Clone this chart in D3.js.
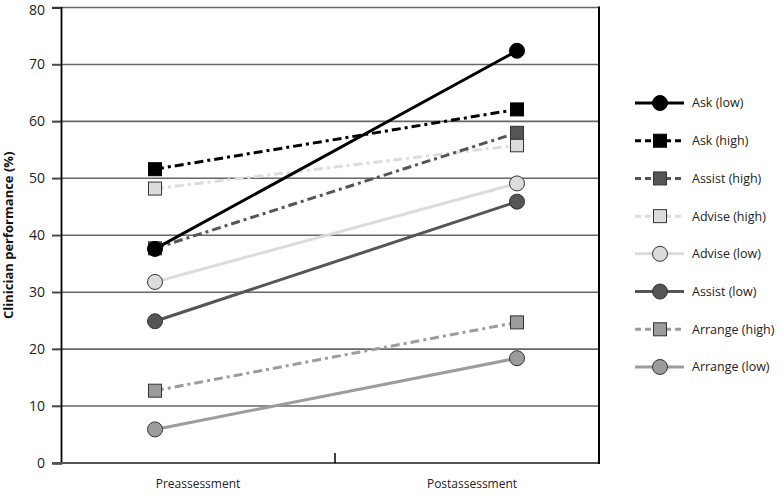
<!DOCTYPE html>
<html><head><meta charset="utf-8">
<script src="https://cdn.jsdelivr.net/npm/d3@7"></script>
<style>body{margin:0;background:#fff;} svg{display:block;} text{font-family:"Open Sans","Noto Sans",sans-serif;}</style>
</head><body>
<svg id="chart" width="782" height="496"></svg>
<script>
const categories = ["Preassessment", "Postassessment"];
const seriesNames = ["Ask (low)", "Ask (high)", "Assist (high)", "Advise (high)", "Advise (low)", "Assist (low)", "Arrange (high)", "Arrange (low)"];
const askLow = [37.6, 72.4];
const askHigh = [51.6, 62.1];
const assistHigh = [37.7, 58.0];
const adviseHigh = [48.2, 55.8];
const adviseLow = [31.8, 49.1];
const assistLow = [24.9, 45.9];
const arrangeHigh = [12.7, 24.7];
const arrangeLow = [5.9, 18.4];
const yTicks = [0, 10, 20, 30, 40, 50, 60, 70, 80];

const seriesValues = [askLow, askHigh, assistHigh, adviseHigh, adviseLow, assistLow, arrangeHigh, arrangeLow];
const styles = [
  {color:"#000000", fill:"#000000", shape:"circle", dash:null},
  {color:"#000000", fill:"#000000", shape:"square", dash:"9,4,3,4"},
  {color:"#555555", fill:"#555555", shape:"square", dash:"9,4,3,4"},
  {color:"#dcdcdc", fill:"#dcdcdc", shape:"square", dash:"9,4,3,4"},
  {color:"#dcdcdc", fill:"#dcdcdc", shape:"circle", dash:null},
  {color:"#555555", fill:"#555555", shape:"circle", dash:null},
  {color:"#9c9c9c", fill:"#9c9c9c", shape:"square", dash:"9,4,3,4"},
  {color:"#9c9c9c", fill:"#9c9c9c", shape:"circle", dash:null}
];
const series = seriesNames.map((n,i)=>({name:n, values:seriesValues[i], style:styles[i]}));

const svg = d3.select("#chart");
const mLeft = 61, mRight = 599, mTop = 7.5, mBottom = 463;
const y = d3.scaleLinear().domain([0,80]).range([mBottom, mTop]);
const xBand = d3.scaleBand().domain(categories).range([mLeft, 609]);
const xPt = d3.scalePoint().domain(categories).range([155, 517]);

// gridlines
svg.append("g").selectAll("line").data(yTicks.filter(t=>t>0)).join("line")
  .attr("x1", 52).attr("x2", mRight).attr("y1", d=>y(d)).attr("y2", d=>y(d))
  .attr("stroke", "#666").attr("stroke-width", 1.6);

// y axis
const yAxis = svg.append("g").attr("transform", `translate(${mLeft},0)`)
  .call(d3.axisLeft(y).tickValues(yTicks).tickSize(9).tickPadding(7));
yAxis.select(".domain").attr("stroke", "#000").attr("stroke-width", 1.8);
yAxis.selectAll(".tick line").attr("stroke", "#444").attr("stroke-width", 1.5);
yAxis.selectAll(".tick text").attr("font-size", 14).attr("fill", "#222")
  .attr("font-family", "'Open Sans', sans-serif")
  .attr("y", d => d === 80 ? 3 : 0);

// x axis
const xAxis = svg.append("g").attr("transform", `translate(0,${mBottom})`)
  .call(d3.axisBottom(xBand).tickSize(0).tickPadding(16));
xAxis.select(".domain").remove();
xAxis.selectAll(".tick text").attr("font-size", 12).attr("fill", "#222")
  .attr("font-family", "'Open Sans', sans-serif");
svg.append("line").attr("x1", 52).attr("x2", mRight).attr("y1", mBottom).attr("y2", mBottom)
  .attr("stroke", "#555").attr("stroke-width", 2);
// middle separator tick
svg.append("line").attr("x1", xBand(categories[1])).attr("x2", xBand(categories[1]))
  .attr("y1", mBottom-10).attr("y2", mBottom).attr("stroke", "#000").attr("stroke-width", 1.5);
// right border
svg.append("line").attr("x1", mRight).attr("x2", mRight).attr("y1", mTop-1).attr("y2", mBottom+1)
  .attr("stroke", "#000").attr("stroke-width", 2);

// y title
svg.append("text").attr("transform", `translate(13,${(mTop+mBottom)/2}) rotate(-90)`)
  .attr("text-anchor", "middle").attr("font-size", 13).attr("font-weight", "bold")
  .attr("fill", "#111").text("Clinician performance (%)");

const line = d3.line().x((d,i)=>xPt(categories[i])).y(d=>y(d));

function drawMarker(g, s, cx, cy) {
  const stroke = s.fill === "#000000" ? "#000" : "#333";
  if (s.shape === "circle") {
    g.append("circle").attr("cx", cx).attr("cy", cy).attr("r", 7.5)
      .attr("fill", s.fill).attr("stroke", stroke).attr("stroke-width", 1);
  } else {
    g.append("rect").attr("x", cx-6.5).attr("y", cy-6.5).attr("width", 13).attr("height", 13)
      .attr("fill", s.fill).attr("stroke", stroke).attr("stroke-width", 1);
  }
}

// draw lines (reverse so first series on top)
const plotG = svg.append("g");
series.slice().reverse().forEach(s=>{
  plotG.append("path").datum(s.values).attr("d", line)
    .attr("fill", "none").attr("stroke", s.style.color).attr("stroke-width", 3)
    .attr("stroke-dasharray", s.style.dash);
});
series.slice().reverse().forEach(s=>{
  s.values.forEach((v,i)=>drawMarker(plotG, s.style, xPt(categories[i]), y(v)));
});

// legend
const legY = d3.scalePoint().domain(seriesNames).range([103, 367]);
const leg = svg.append("g");
series.forEach(s=>{
  const yy = legY(s.name);
  leg.append("line").attr("x1", 635).attr("x2", 684).attr("y1", yy).attr("y2", yy)
    .attr("stroke", s.style.color).attr("stroke-width", 3)
    .attr("stroke-dasharray", s.style.dash ? "6,4" : null);
  drawMarker(leg, s.style, 660, yy);
  leg.append("text").attr("x", 692).attr("y", yy).attr("dy", "0.35em")
    .attr("font-size", 12.5).attr("fill", "#222").text(s.name);
});
</script>
</body></html>
